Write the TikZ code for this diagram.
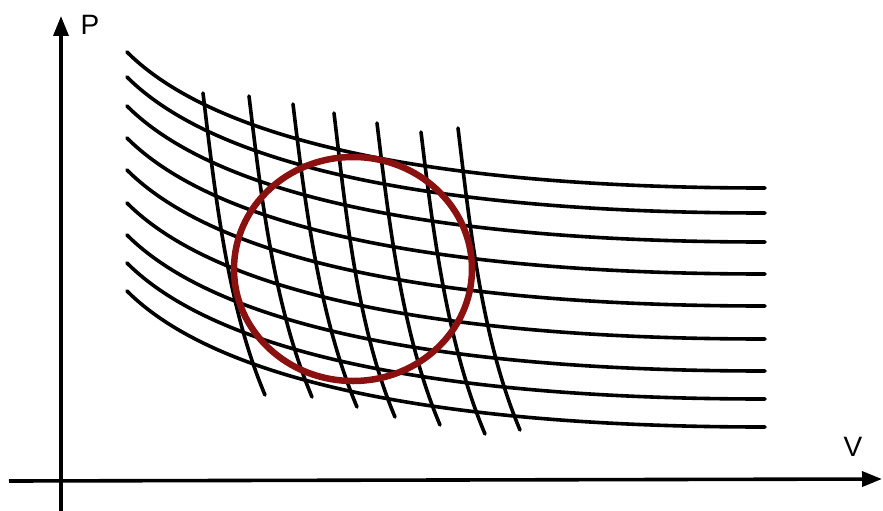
\documentclass[tikz,border=0pt]{standalone}
\usepackage{fontspec}
\setmainfont{Liberation Sans}
\usepackage{tikz}
\usetikzlibrary{arrows.meta}
\definecolor{processred}{RGB}{139,16,16}

\begin{document}
\begin{tikzpicture}[
  x=1pt,y=-1pt,
  font=\fontsize{28}{32}\selectfont,
  axis/.style={line width=3.6pt,-{Triangle[length=20pt,width=15pt]}},
  isotherm/.style={line width=3.6pt,line cap=round},
  adiabat/.style={line width=3.6pt,line cap=round},
  process/.style={draw=processred,line width=6.5pt},
  axlabel/.style={inner sep=0pt,anchor=center}
]
\useasboundingbox (0,0) rectangle (883,511);
\coordinate (pbot) at (61,511);
\coordinate (ptop) at (61,16);
\coordinate (vleft) at (9,481);
\coordinate (vright) at (882,479);
\draw[axis] (pbot) -- (ptop);
\draw[axis] (vleft) -- (vright);
\node[axlabel] (plabel) at (90,25) {P};
\node[axlabel] (vlabel) at (853,447) {V};
\draw[isotherm] (127,52) .. controls (220,145) and (450,188) .. (765,188);
\draw[isotherm] (127,77) .. controls (220,170) and (450,213) .. (765,213);
\draw[isotherm] (127,106) .. controls (220,199) and (450,242) .. (765,242);
\draw[isotherm] (127,138) .. controls (220,231) and (450,274) .. (765,274);
\draw[isotherm] (127,170) .. controls (220,263) and (450,306) .. (765,306);
\draw[isotherm] (127,203) .. controls (220,296) and (450,339) .. (765,339);
\draw[isotherm] (127,235) .. controls (220,328) and (450,371) .. (765,371);
\draw[isotherm] (127,263) .. controls (220,356) and (450,399) .. (765,399);
\draw[isotherm] (127,291) .. controls (220,384) and (450,427) .. (765,427);
\draw[adiabat] (203,93) .. controls (215,193) and (227,305) .. (265,395);
\draw[adiabat] (249,96) .. controls (261,196) and (274,307) .. (312,397);
\draw[adiabat] (293,104) .. controls (305,204) and (319,317) .. (357,407);
\draw[adiabat] (334,113) .. controls (346,213) and (357,327) .. (395,417);
\draw[adiabat] (377,123) .. controls (389,223) and (402,335) .. (440,425);
\draw[adiabat] (421,132) .. controls (433,232) and (447,344) .. (485,434);
\draw[adiabat] (458,128) .. controls (470,228) and (482,340) .. (520,430);
\draw[process] (353,269) ellipse [x radius=119, y radius=112];
\end{tikzpicture}
\end{document}
